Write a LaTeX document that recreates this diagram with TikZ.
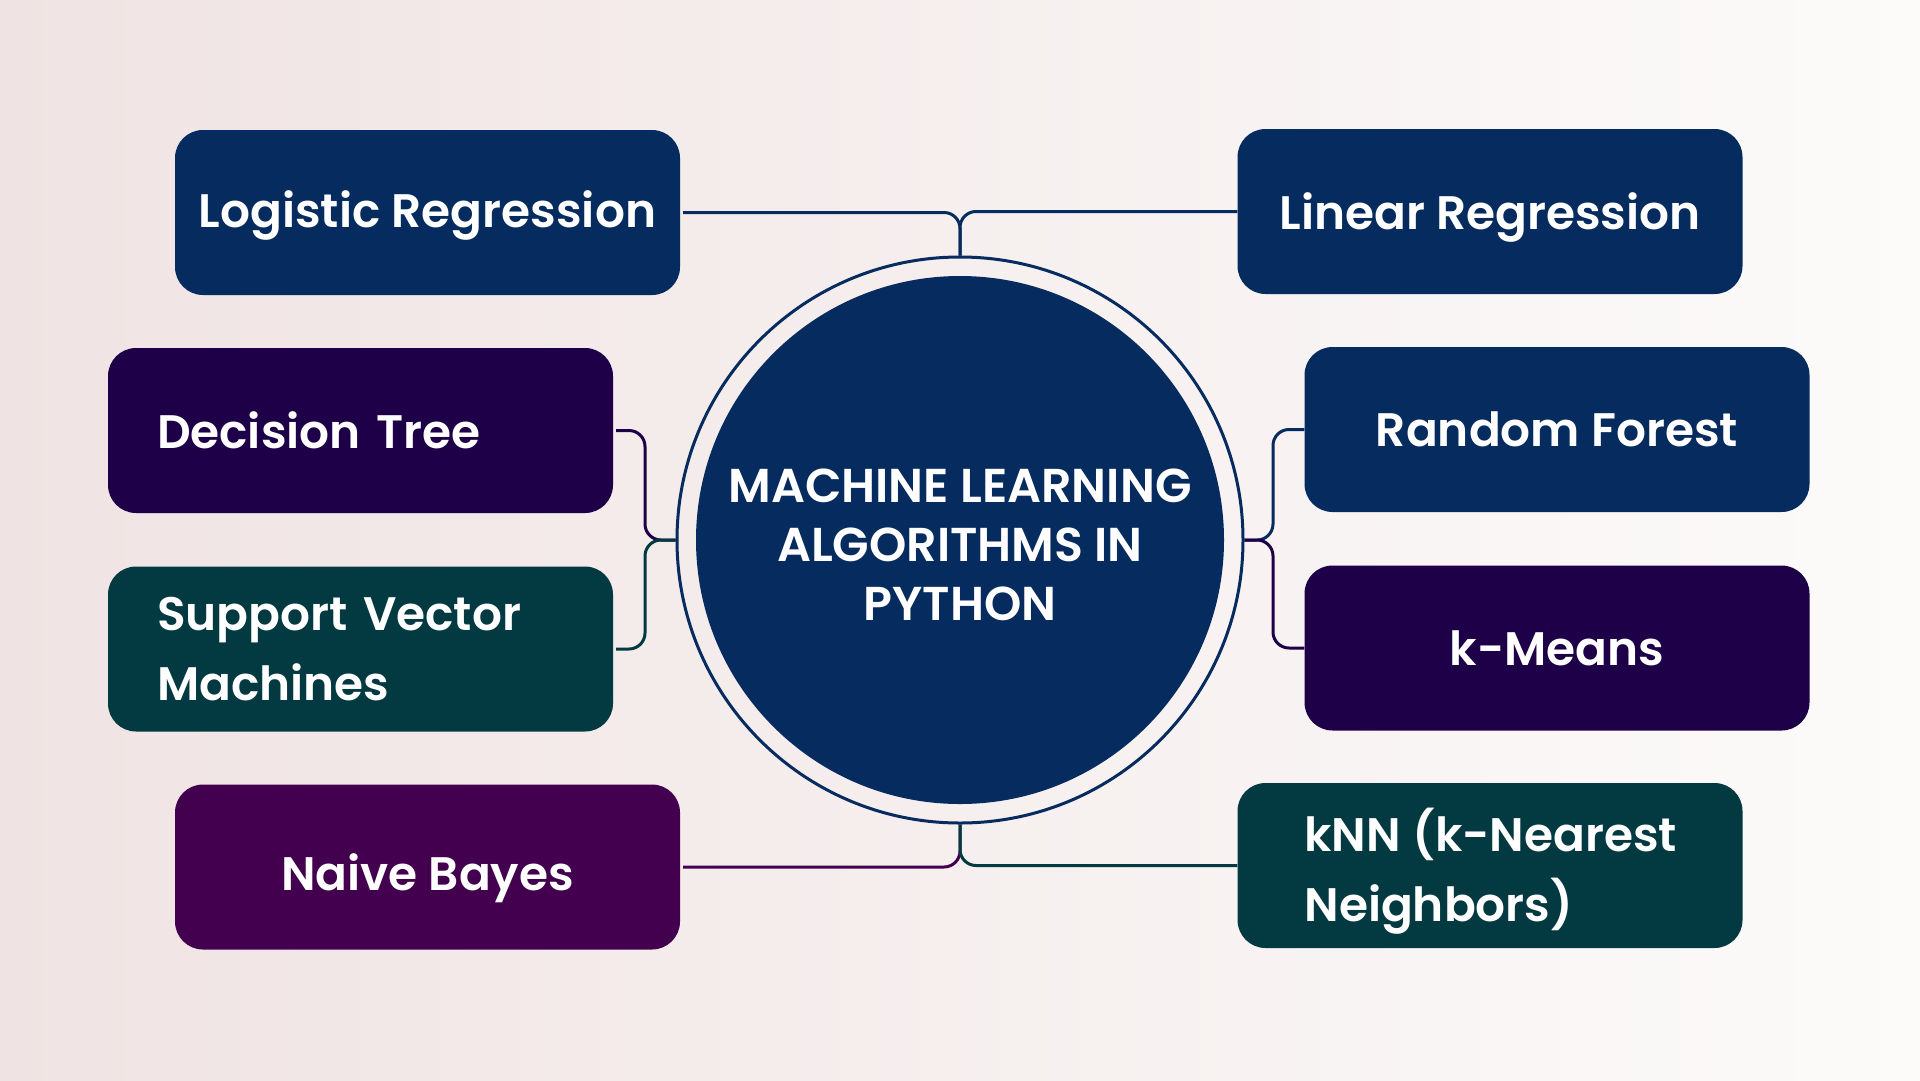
\documentclass[tikz,border=0pt]{standalone}
\usepackage{fontspec}
\setmainfont{Poppins}[UprightFont=* SemiBold]
\usetikzlibrary{calc}
\definecolor{navy}{HTML}{062B5E}
\definecolor{dpurple}{HTML}{1E0048}
\definecolor{dteal}{HTML}{033A42}
\definecolor{plum}{HTML}{42004E}
\definecolor{bgL}{HTML}{F0E3E3}
\definecolor{bgR}{HTML}{FCFBFA}
\tikzset{
  box/.style={rounded corners=28pt, minimum width=505pt, minimum height=165pt,
    text=white, font=\fontsize{47}{70}\selectfont, inner sep=0pt, align=center},
  label/.style={text=white, font=\fontsize{47}{70}\selectfont, inner sep=0pt},
  conn/.style={line width=3pt, rounded corners=16pt},
}
\begin{document}
\begin{tikzpicture}[x=1pt,y=-1pt]
\shade[left color=bgL, right color=bgR] (0,0) rectangle (1920,1080);
\useasboundingbox (0,0) rectangle (1920,1080);
% centre
\node[circle, draw=navy, line width=3pt, minimum size=566pt, inner sep=0pt] (ring) at (960,540) {};
\node[circle, fill=navy, minimum size=528pt, inner sep=0pt] (core) at (960,540) {};
\node[text=white, align=center, inner sep=0pt,
  font=\fontsize{47.5}{59}\selectfont] (title) at (960,545) {MACHINE LEARNING\\ALGORITHMS IN\\PYTHON};
% boxes
\node[box, fill=navy] (logit) at (427.5,212.5) {};
\node[label] (logitT) at ([yshift=-2.5pt]logit.center) {Logistic Regression};
\node[box, fill=navy] (linear) at (1490,211.5) {};
\node[label] (linearT) at ([yshift=-6pt]linear.center) {Linear Regression};
\node[box, fill=dpurple, align=left, text width=407pt, inner xsep=49pt] (dtree) at (360.5,430.5) {Decision Tree};
\node[box, fill=navy] (rforest) at (1557,429.5) {Random Forest};
\node[box, fill=dteal, align=left, text width=407pt, inner xsep=49pt] (svm) at (360.5,649) {Support Vector\\Machines};
\node[box, fill=dpurple] (kmeans) at (1557,648) {k-Means};
\node[box, fill=plum] (naive) at (427.5,867) {};
\node[label] (naiveT) at ([yshift=-11pt]naive.center) {Naive Bayes};
\node[box, fill=dteal] (knn) at (1490,865.5) {};
\node[label, align=left, anchor=west] (knnT) at ([xshift=67pt,yshift=-5.5pt]knn.west) {kNN (k-Nearest\\Neighbors)};
% junctions
\coordinate (lj) at (645,540);
\coordinate (rj) at (1273,540);
% connectors
\draw[conn, navy] ([xshift=3pt]logit.east) -| (ring.north);
\draw[conn, navy] (linear.west) -| (ring.north);
\draw[conn, dpurple] ([xshift=3pt]dtree.east) -| (lj) -- (ring.west);
\draw[conn, dteal] ([xshift=3pt]svm.east) -| (lj) -- (ring.west);
\draw[conn, navy] (rforest.west) -| (rj) -- (ring.east);
\draw[conn, dpurple] (kmeans.west) -| (rj) -- (ring.east);
\draw[conn, plum] ([xshift=3pt]naive.east) -| (ring.south);
\draw[conn, dteal] (knn.west) -| (ring.south);
\end{tikzpicture}
\end{document}
